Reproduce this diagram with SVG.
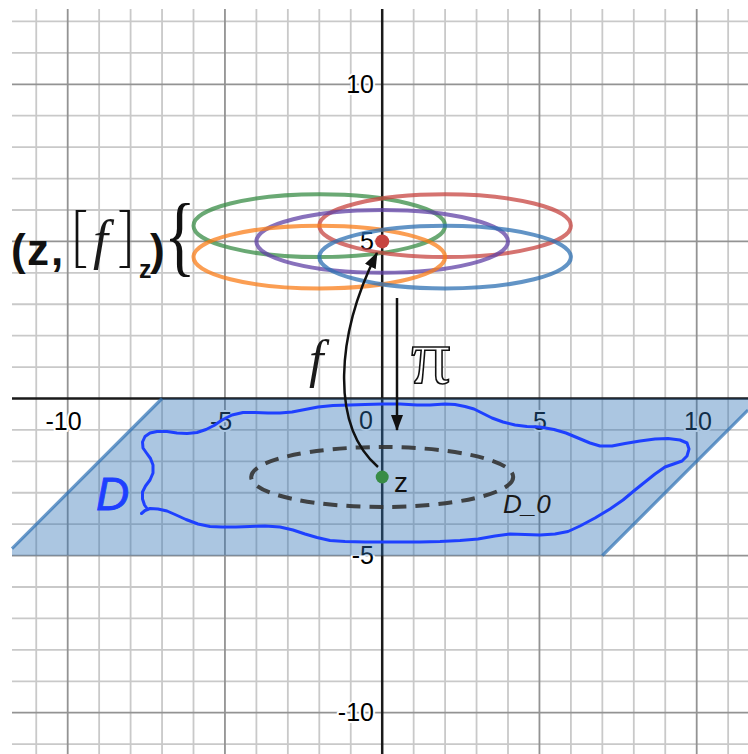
<svg xmlns="http://www.w3.org/2000/svg" width="748" height="754" viewBox="0 0 748 754">
<style>
.minor{stroke:#c9c9c9;stroke-width:1.8;fill:none}
.major{stroke:#939393;stroke-width:1.8;fill:none}
.axis{stroke:#1a1a1a;stroke-width:2.5;fill:none}
.tick{font-family:"Liberation Sans",Arial,sans-serif;font-size:25px;fill:#000;stroke:#fff;stroke-width:4;paint-order:stroke;stroke-linejoin:round}
.fib{fill:none;stroke-width:4;stroke-opacity:0.75}
.conn{fill:none;stroke:#111;stroke-width:2.5}
.sans{font-family:"Liberation Sans",Arial,sans-serif;fill:#111}
.script{font-family:"Liberation Serif","Times New Roman",serif;font-style:italic;fill:#1a1a1a}
</style>
<defs>
<marker id="ah" viewBox="0 0 16 12" refX="15" refY="6" markerWidth="16" markerHeight="12" markerUnits="userSpaceOnUse" orient="auto">
<path d="M0,0 L16,6 L0,12 Z" fill="#111"/>
</marker>
</defs>
<rect width="748" height="754" fill="#fff"/>
<g id="grid">
<path class="minor" d="M36.25,9V754M99.15,9V754M130.6,9V754M162.05,9V754M193.5,9V754M256.4,9V754M287.85,9V754M319.3,9V754M350.75,9V754M413.65,9V754M445.1,9V754M476.55,9V754M508,9V754M570.9,9V754M602.35,9V754M633.8,9V754M665.25,9V754M728.15,9V754
M12,21.46H748M12,52.88H748M12,115.72H748M12,147.14H748M12,178.56H748M12,209.98H748M12,272.82H748M12,304.24H748M12,335.66H748M12,367.08H748M12,429.92H748M12,461.34H748M12,492.76H748M12,524.18H748M12,587.02H748M12,618.44H748M12,649.86H748M12,681.28H748M12,744.12H748"/>
<path class="major" d="M67.7,9V754M224.95,9V754M539.45,9V754M696.7,9V754M12,84.3H748M12,241.4H748M12,555.6H748M12,712.7H748"/>
<path class="axis" d="M382.2,9V754M12,398.5H748"/>
</g>
<g id="ticks">
<text class="tick" x="374" y="93" text-anchor="end">10</text>
<text class="tick" x="374" y="250" text-anchor="end">5</text>
<text class="tick" x="374" y="564" text-anchor="end">-5</text>
<text class="tick" x="374" y="721" text-anchor="end">-10</text>
<text class="tick" x="63.5" y="430" text-anchor="middle">-10</text>
<text class="tick" x="221" y="430" text-anchor="middle">-5</text>
<text class="tick" x="366" y="429" text-anchor="middle">0</text>
<text class="tick" x="540" y="430" text-anchor="middle">5</text>
<text class="tick" x="698" y="430" text-anchor="middle">10</text>
</g>
<g id="plane">
<path d="M162.05,398.5 L748,398.5 L748,410.1 L602.35,555.6 L12,555.6 L12,548.55 Z" fill="#2d70b3" fill-opacity="0.4"/>
<path d="M162.05,398.5 L12,548.55 M602.35,555.6 L748,410.1" stroke="#2d70b3" stroke-opacity="0.7" stroke-width="3.2" fill="none"/>
</g>
<g id="region-D">
<path fill="none" stroke="#1e40ff" stroke-width="3" stroke-linejoin="round" stroke-linecap="round" d="M141.5,513.5 L145,510.5 L150,508.5 L158,509 L167,511 L175,514.5 L186,519.5 L198,524 L210,526.5 L222,527 L236,527 L250,526.5 L265,526 L280,527 L293,530 L305,534 L317,537.5 L330,540.5 L345,541.5 L365,542 L383,542 L400,542 L420,542 L440,541.5 L460,540.5 L478,539 L495,536 L510,534 L525,534.5 L540,535 L555,534 L568,531.5 L580,526 L595,518 L610,509 L623,500 L635,490 L645,482 L655,474 L665,467 L675,463.5 L682,461 L687,456 L689,449 L687,443 L680,440 L668,438.5 L655,439 L640,441 L625,443.5 L612,446 L600,446 L590,443 L578,438 L566,433 L554,429.5 L540,427 L527,426.5 L515,425 L503,422 L492,418 L483,413.5 L474,409 L465,406.5 L455,404.5 L445,404 L430,405 L417,405 L400,404 L383,404 L365,404.5 L350,405 L333,405.5 L318,407 L305,409.5 L292,412 L280,413 L268,413 L255,412.5 L243,412.5 L232,415 L222,420 L214,425.5 L206,429.5 L197,432.5 L187,433.5 L177,433 L167,431.5 L157,431.5 L150,433 L145,436.5 L142.5,442 L143,448 L146.5,453 L150.5,458.5 L153,465 L153,473 L150,480 L145.5,486 L142.5,492 L142.5,499 L144.5,505 L147,508.5"/>
<text x="96" y="510" font-family="'Liberation Sans',Arial,sans-serif" font-style="italic" font-size="46" fill="#1e40ff" stroke="#1e40ff" stroke-width="0.8">D</text>
</g>
<g id="D0">
<ellipse cx="382.2" cy="477" rx="131" ry="30" fill="none" stroke="#333" stroke-opacity="0.9" stroke-width="4" stroke-dasharray="14 9"/>
<text x="503" y="513" font-family="'Liberation Sans',Arial,sans-serif" font-style="italic" font-size="26" fill="#1a1a1a">D_0</text>
</g>
<g id="fiber">
<ellipse class="fib" cx="319.3" cy="225.7" rx="125.8" ry="31.4" stroke="#388c46"/>
<ellipse class="fib" cx="445.1" cy="225.7" rx="125.8" ry="31.4" stroke="#c74440"/>
<ellipse class="fib" cx="382.2" cy="241.4" rx="125.8" ry="31.4" stroke="#6042a6"/>
<ellipse class="fib" cx="319.3" cy="257.1" rx="125.8" ry="31.4" stroke="#fa7e19"/>
<ellipse class="fib" cx="445.1" cy="257.1" rx="125.8" ry="31.4" stroke="#2d70b3"/>
</g>
<g id="germ-label">
<text class="sans" font-weight="bold" font-size="44" y="265"><tspan x="11">(</tspan><tspan x="27">z</tspan><tspan x="51">,</tspan></text>
<text class="sans" font-size="66" y="259" font-weight="300" style="font-family:Lato,'Liberation Sans',sans-serif"><tspan x="69">[</tspan><tspan x="117">]</tspan></text>
<text class="script" font-size="54" x="93" y="258">f</text>
<text class="sans" font-weight="bold" font-size="25" x="139" y="278">z</text>
<text class="sans" font-weight="bold" font-size="44" x="150" y="265">)</text>
<text font-family="'Liberation Serif','Times New Roman',serif" font-size="88" fill="#111" transform="translate(164,265) scale(0.75,1)">{</text>
</g>
<g id="point-5">
<circle cx="382.2" cy="241.4" r="7" fill="#c74440"/>
</g>
<g id="point-z">
<circle cx="382.2" cy="477" r="6.5" fill="#388c46"/>
<text class="sans" font-size="28" x="394" y="492">z</text>
</g>
<g id="connectors">
<path class="conn" d="M378,467 C330,425 336,335 377,253" marker-end="url(#ah)"/>
<path class="conn" d="M397,298 V430" marker-end="url(#ah)"/>
<text class="script" font-size="52" x="309" y="377">f</text>
<text x="411" y="383" font-family="'Liberation Serif',serif" font-size="78" fill="#fff" stroke="#111" stroke-width="1.6">π</text>
</g>
</svg>
